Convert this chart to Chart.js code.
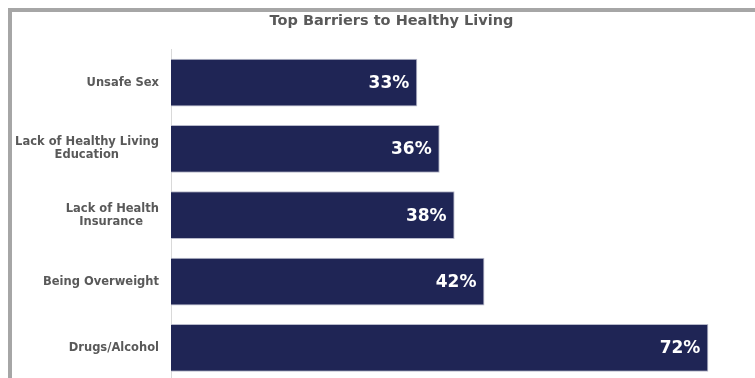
<!DOCTYPE html>
<html>
<head>
<meta charset="utf-8">
<script src="https://cdn.jsdelivr.net/npm/chart.js@4/dist/chart.umd.min.js"></script>
<style>
  html, body { margin: 0; padding: 0; background: #fff; overflow: hidden; }
  #wrap { position: relative; width: 755px; height: 378px; overflow: hidden; }
  #frame { position: absolute; left: 8px; top: 8px; right: 0; height: 400px;
           border-top: 4px solid #a6a6a6; border-left: 4px solid #a6a6a6; }
  #chart { position: absolute; left: 0; top: 0; }
</style>
</head>
<body>
<div id="wrap">
  <div id="frame"></div>
  <!-- canvas is a bit wider than the window so the title sits where the original has it -->
  <canvas id="chart" width="783" height="384"></canvas>
</div>
<script>
// --- Data ---
const categories = [
  "Unsafe Sex",
  ["Lack of Healthy Living", "Education"],
  ["Lack of Health", "Insurance"],
  "Being Overweight",
  "Drugs/Alcohol"
];
const values = [33, 36, 38, 42, 72];
const chartTitle = "Top Barriers to Healthy Living";

const labelFont = 'bold 11.5px "DejaVu Sans", Verdana, sans-serif';

// two-line labels: pad the short line with spaces so it sits centred under the long one
function centreLines(label) {
  if (!Array.isArray(label)) return label;
  const ctx = document.createElement('canvas').getContext('2d');
  ctx.font = labelFont;
  const widest = Math.max(...label.map(l => ctx.measureText(l).width));
  const space = ctx.measureText(' ').width;
  return label.map(l => {
    const n = Math.round((widest - ctx.measureText(l).width) / 2 / space);
    return l + ' '.repeat(n);
  });
}

// draw "NN%" inside the right end of each bar
const valueLabels = {
  id: 'valueLabels',
  afterDatasetsDraw(chart) {
    const ctx = chart.ctx;
    const meta = chart.getDatasetMeta(0);
    ctx.save();
    ctx.font = 'bold 17px "DejaVu Sans", Verdana, sans-serif';
    ctx.fillStyle = '#ffffff';
    ctx.textAlign = 'right';
    ctx.textBaseline = 'middle';
    meta.data.forEach((bar, i) => {
      ctx.fillText(values[i] + '%', bar.x - 8, bar.y + 1);
    });
    ctx.restore();
  }
};

new Chart(document.getElementById('chart'), {
  type: 'bar',
  data: {
    labels: categories.map(centreLines),
    datasets: [{
      data: values,
      backgroundColor: '#1f2555',
      borderColor: '#b8bacb',
      borderWidth: 1,
      borderSkipped: 'start',
      barPercentage: 0.72,
      categoryPercentage: 1
    }]
  },
  options: {
    indexAxis: 'y',
    responsive: false,
    animation: false,
    devicePixelRatio: 1,
    layout: { padding: { left: 0, right: 0, top: 0, bottom: 3 } },
    plugins: {
      legend: { display: false },
      tooltip: { enabled: false },
      title: {
        display: true,
        text: chartTitle,
        color: '#595959',
        font: { family: '"DejaVu Sans", Verdana, sans-serif', size: 14.5, weight: 'bold' },
        padding: { top: 13, bottom: 19 }
      }
    },
    scales: {
      x: { display: false, min: 0, max: 82 },
      y: {
        afterFit: (scale) => {
          scale.width = 171;
          scale.paddingTop = 0;
          scale.paddingBottom = 0;
        },
        grid: { display: false, drawTicks: false },
        border: { display: true, color: '#d9d9d9', width: 1 },
        ticks: {
          padding: 12,
          color: '#595959',
          font: { family: '"DejaVu Sans", Verdana, sans-serif', size: 11.5, weight: 'bold', lineHeight: 1.15 }
        }
      }
    }
  },
  plugins: [valueLabels]
});
</script>
</body>
</html>
